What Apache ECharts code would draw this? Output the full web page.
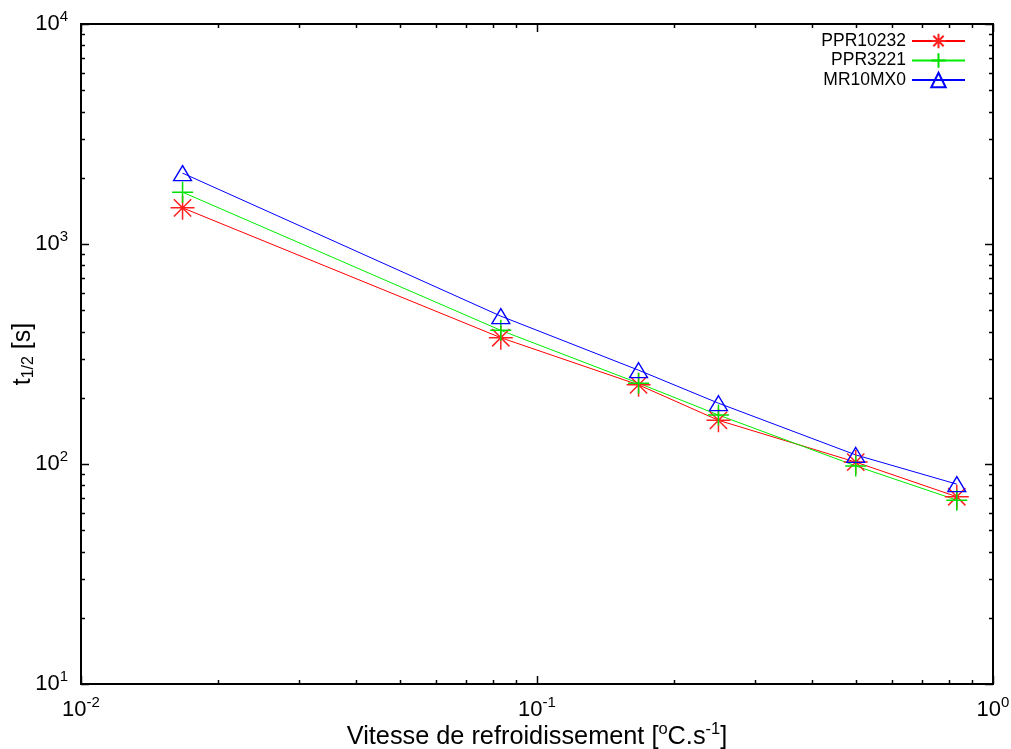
<!DOCTYPE html>
<html>
<head>
<meta charset="utf-8">
<script src="https://cdn.jsdelivr.net/npm/echarts@6/dist/echarts.min.js"></script>
<style>
  html, body { margin: 0; padding: 0; background: #fff; }
  #chart { width: 1011px; height: 749px; }
</style>
</head>
<body>
<div id="chart"></div>
<script>
// Cooling rate [°C/s]
const rates = [0.0167, 0.0833, 0.167, 0.25, 0.5, 0.833];
// Half-transformation time t1/2 [s]
const ppr10232 = [1460, 375, 229, 158, 102, 71];
const ppr3221 = [1720, 405, 233, 167, 98, 68.5];
const mr10mx0 = [2100, 470, 267, 189, 110, 81];

const seriesNames = ['PPR10232', 'PPR3221', 'MR10MX0'];

// Axis ranges and tick positions (gnuplot-style frame ticks on all sides)
const xMin = 0.01, xMax = 1;
const yMin = 10, yMax = 10000;
const xMajorTicks = [0.01, 0.1, 1];
const xMinorTicks = [0.02, 0.03, 0.04, 0.05, 0.06, 0.07, 0.08, 0.09,
                     0.2, 0.3, 0.4, 0.5, 0.6, 0.7, 0.8, 0.9];
const yMajorTicks = [10, 100, 1000, 10000];
const yMinorTicks = [20, 30, 40, 50, 60, 70, 80, 90,
                     200, 300, 400, 500, 600, 700, 800, 900,
                     2000, 3000, 4000, 5000, 6000, 7000, 8000, 9000];

const FONT = '"Liberation Sans", Arial, Helvetica, sans-serif';
const MAJOR_LEN = 8, MINOR_LEN = 4;

const pair = (xs, ys) => xs.map((x, i) => [x, ys[i]]);

const xTickData = xMajorTicks.map(v => [v, yMin, MAJOR_LEN])
  .concat(xMinorTicks.map(v => [v, yMin, MINOR_LEN]));
const yTickData = yMajorTicks.map(v => [xMin, v, MAJOR_LEN])
  .concat(yMinorTicks.map(v => [xMin, v, MINOR_LEN]));

const tickStyle = { stroke: '#000', lineWidth: 1.5 };

function renderXTick(params, api) {
  const cs = params.coordSys;
  const px = Math.round(api.coord([api.value(0), yMin])[0]) + 0.5;
  const len = api.value(2);
  const bottom = cs.y + cs.height, top = cs.y;
  return {
    type: 'group',
    children: [
      { type: 'line', shape: { x1: px, y1: bottom, x2: px, y2: bottom - len }, style: tickStyle },
      { type: 'line', shape: { x1: px, y1: top, x2: px, y2: top + len }, style: tickStyle }
    ]
  };
}

function renderYTick(params, api) {
  const cs = params.coordSys;
  const py = Math.round(api.coord([xMin, api.value(1)])[1]) + 0.5;
  const len = api.value(2);
  const left = cs.x, right = cs.x + cs.width;
  return {
    type: 'group',
    children: [
      { type: 'line', shape: { x1: left, y1: py, x2: left + len, y2: py }, style: tickStyle },
      { type: 'line', shape: { x1: right, y1: py, x2: right - len, y2: py }, style: tickStyle }
    ]
  };
}

const powRich = {
  b: { fontSize: 22, fontFamily: FONT, color: '#000' },
  s: { fontSize: 15, fontFamily: FONT, color: '#000', padding: [0, 0, 15, 0] }
};
const powLabel = v => '{b|10}{s|' + Math.round(Math.log10(v)) + '}';

const asterisk = 'path://M0,-1L0,1M-1,0L1,0M-0.72,-0.72L0.72,0.72M-0.72,0.72L0.72,-0.72';
const plus = 'path://M0,-1L0,1M-1,0L1,0';

const chart = echarts.init(document.getElementById('chart'), null, { renderer: 'canvas' });
chart.setOption({
  animation: false,
  backgroundColor: '#fff',
  grid: {
    left: 81, right: 18, top: 24, bottom: 65,
    outerBoundsMode: 'none',
    containLabel: false,
    show: true, borderColor: '#000', borderWidth: 2, backgroundColor: 'transparent'
  },
  legend: {
    data: seriesNames,
    orient: 'vertical',
    align: 'right',
    right: 40,
    top: 27,
    itemWidth: 53,
    itemHeight: 18,
    itemGap: 1.5,
    textStyle: {
      fontFamily: FONT, fontSize: 17.5, color: '#000',
      width: 100, align: 'right', padding: [0, 1, 0, 0]
    }
  },
  xAxis: {
    type: 'log', logBase: 10, min: xMin, max: xMax, interval: 1,
    axisLine: { show: false },
    axisTick: { show: false },
    splitLine: { show: false },
    axisLabel: { formatter: powLabel, rich: powRich, margin: 11 },
    name: '{t|Vitesse de refroidissement [}{s|o}{t|C.s}{s|-1}{t|]}',
    nameLocation: 'middle',
    nameGap: 37,
    nameMoveOverlap: false,
    nameTextStyle: {
      rich: {
        t: { fontSize: 25.3, fontFamily: FONT, color: '#000' },
        s: { fontSize: 16.5, fontFamily: FONT, color: '#000', padding: [0, 0, 16, 0] }
      }
    }
  },
  yAxis: {
    type: 'log', logBase: 10, min: yMin, max: yMax, interval: 1,
    axisLine: { show: false },
    axisTick: { show: false },
    splitLine: { show: false },
    axisLabel: { formatter: powLabel, rich: powRich, margin: 13 },
    name: '{t|t}{d|1/2}{t| [s]}',
    nameLocation: 'middle',
    nameGap: 44,
    nameMoveOverlap: false,
    nameTextStyle: {
      rich: {
        t: { fontSize: 25, fontFamily: FONT, color: '#000' },
        d: { fontSize: 16, fontFamily: FONT, color: '#000', padding: [12, 0, 0, 0] }
      }
    }
  },
  series: [
    {
      name: 'PPR10232', type: 'line', data: pair(rates, ppr10232),
      color: '#ff0000',
      symbol: asterisk, symbolSize: 24,
      itemStyle: { color: 'rgba(0,0,0,0)', borderColor: '#ff2020', borderWidth: 1.5 },
      lineStyle: { color: '#ff0000', width: 1 }
    },
    {
      name: 'PPR3221', type: 'line', data: pair(rates, ppr3221),
      color: '#00ff00',
      symbol: plus, symbolSize: 21,
      itemStyle: { color: 'rgba(0,0,0,0)', borderColor: '#00e000', borderWidth: 1.5 },
      lineStyle: { color: '#00ee00', width: 1 }
    },
    {
      name: 'MR10MX0', type: 'line', data: pair(rates, mr10mx0),
      color: '#0000ff',
      symbol: 'triangle', symbolSize: [18, 15],
      itemStyle: { color: 'rgba(0,0,0,0)', borderColor: '#0000ff', borderWidth: 1.3 },
      lineStyle: { color: '#0000ff', width: 1 }
    },
    {
      type: 'custom', name: 'xticks', data: xTickData, renderItem: renderXTick,
      silent: true, clip: false, z: 5
    },
    {
      type: 'custom', name: 'yticks', data: yTickData, renderItem: renderYTick,
      silent: true, clip: false, z: 5
    }
  ]
});
</script>
</body>
</html>
